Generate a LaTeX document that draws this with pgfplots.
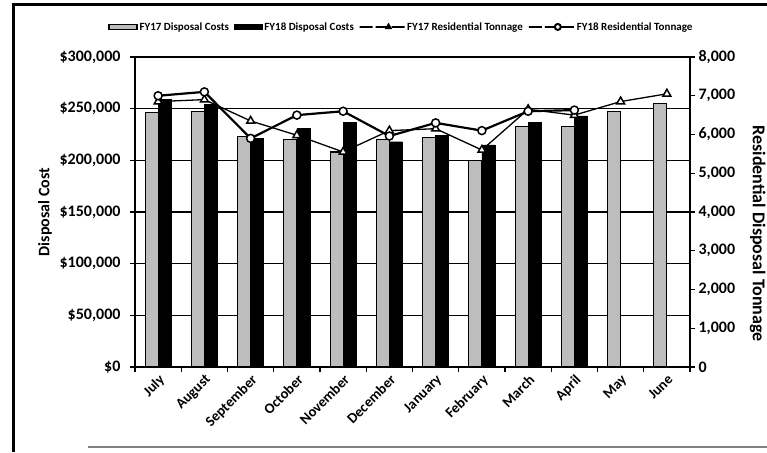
\documentclass[border=0pt]{standalone}
\usepackage{fontspec}
\setmainfont{Carlito}
\usepackage{pgfplots}
\pgfplotsset{compat=1.18}
\definecolor{fy17fill}{gray}{0.74}
\pgfplotsset{
  barlegend/.style={legend image code/.code={\draw[##1] (0pt,-2.5pt) rectangle (28pt,2.5pt);}},
  linelegend/.style={legend image code/.code={\draw[##1,mark repeat=2,mark phase=2] plot coordinates {(0pt,0pt) (16pt,0pt) (32pt,0pt)};}},
  every axis/.append style={
    /pgf/number format/assume math mode=true,
    /pgf/number format/.cd, fixed, 1000 sep={,},
  },
}
\begin{document}
\begin{tikzpicture}[x=1pt,y=1pt]
\useasboundingbox (0,0) rectangle (767,452);
% outer frame (partly cut off in the scan)
\draw[line width=3pt] (13,0) -- (13,447) -- (767,447);
\draw[gray, line width=1.2pt] (88,5) -- (767,5);

\begin{axis}[
    at={(135pt,85pt)}, anchor=south west,
    scale only axis, width=555pt, height=310pt,
    xmin=-0.5, xmax=11.5, ymin=0, ymax=300000,
    axis x line*=bottom, axis y line*=left,
    axis line style={-, line width=1.3pt},
    ybar=0pt, bar width=13pt,
    xtick={0,...,11},
    xticklabels={July,August,September,October,November,December,January,February,March,April,May,June},
    xticklabel style={rotate=45, anchor=north east, font=\fontsize{14.5}{14.5}\selectfont\bfseries, inner sep=1pt},
    major x tick style={draw=none},
    minor xtick={-0.5,0.5,...,11.5},
    tick align=outside, major tick length=5pt, minor tick length=5pt,
    tick style={black, line width=1.2pt},
    ytick={0,50000,...,300000},
    scaled y ticks=false,
    yticklabel={\$\pgfmathprintnumber{\tick}},
    yticklabel style={font=\fontsize{16}{16}\selectfont\bfseries, xshift=-6pt},
    ymajorgrids, grid style={black, line width=1.3pt},
    ylabel={Disposal Cost},
    ylabel style={at={(axis description cs:-0.162,0.5)}, anchor=center, rotate=0,
      font=\fontsize{16}{16}\selectfont\bfseries},
    legend style={at={(0.48,1.097)}, anchor=center, legend columns=-1, draw=none,
      font=\fontsize{11}{12}\selectfont\bfseries,
      /tikz/every even column/.append style={column sep=3pt}},
    legend cell align=left,
]
\addplot[fill=fy17fill, draw=black, line width=1.2pt, barlegend]
  coordinates {(0,246000) (1,247000) (2,223000) (3,220000) (4,208000) (5,220000)
               (6,222000) (7,200000) (8,233000) (9,233000) (10,247000) (11,255000)};
\addplot[fill=black, draw=black, barlegend]
  coordinates {(0,259000) (1,254000) (2,221000) (3,231000) (4,237000) (5,218000)
               (6,224000) (7,215000) (8,237000) (9,243000)};
\addlegendimage{black, line width=1.3pt, mark=triangle*, mark size=3pt, mark options={fill=black}, linelegend}
\addlegendimage{black, line width=2pt, mark=*, mark size=3pt, mark options={fill=white}, linelegend}
\legend{FY17 Disposal Costs\hspace{37pt}, FY18 Disposal Costs\hspace{37pt}, FY17 Residential Tonnage\hspace{33pt}, FY18 Residential Tonnage}
\end{axis}

\begin{axis}[
    at={(135pt,85pt)}, anchor=south west,
    scale only axis, width=555pt, height=310pt,
    xmin=-0.5, xmax=11.5, ymin=0, ymax=8000,
    axis x line=none, axis y line*=right,
    axis line style={-, line width=1.3pt},
    tick align=outside, major tick length=5pt,
    tick style={black, line width=1.2pt},
    ytick={0,1000,...,8000},
    scaled y ticks=false,
    yticklabel style={font=\fontsize{16}{16}\selectfont\bfseries},
    ylabel={Residential Disposal Tonnage},
    ylabel style={at={(axis description cs:1.122,0.43)}, anchor=center, rotate=180,
      font=\fontsize{18}{18}\selectfont\bfseries},
]
\addplot[black, line width=1.3pt, mark=triangle*, mark size=4.5pt, mark options={fill=white, line width=1.5pt}]
  coordinates {(0,6850) (1,6900) (2,6350) (3,5980) (4,5550) (5,6100)
               (6,6150) (7,5600) (8,6650) (9,6500) (10,6850) (11,7050)};
\addplot[black, line width=2.2pt, mark=*, mark size=4pt, mark options={fill=white, line width=1.5pt}]
  coordinates {(0,7000) (1,7100) (2,5900) (3,6500) (4,6600) (5,5960)
               (6,6300) (7,6100) (8,6600) (9,6630)};
\end{axis}
\end{tikzpicture}
\end{document}
